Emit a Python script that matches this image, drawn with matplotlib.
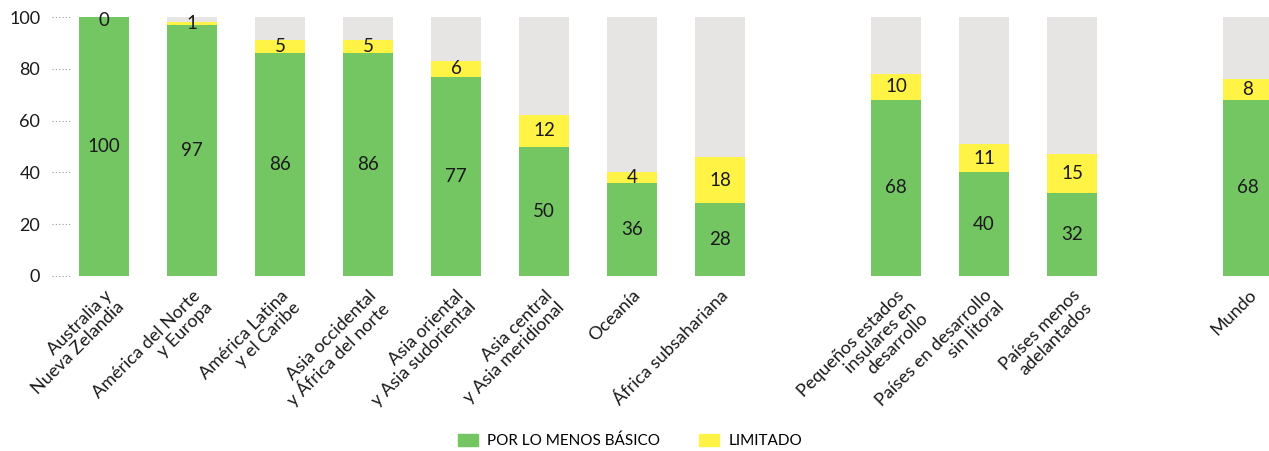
import numpy as np
import matplotlib.pyplot as plt
from matplotlib.patches import Patch

plt.rcParams['font.family'] = ['Lato', 'DejaVu Sans']

# Data
regions = ['Australia y\nNueva Zelandia', 'América del Norte\ny Europa',
           'América Latina\ny el Caribe', 'Asia occidental\ny África del norte',
           'Asia oriental\ny Asia sudoriental', 'Asia central\ny Asia meridional',
           'Oceanía', 'África subsahariana',
           'Pequeños estados\ninsulares en\ndesarrollo', 'Países en desarrollo\nsin litoral',
           'Países menos\nadelantados', 'Mundo']
basic = [100, 97, 86, 86, 77, 50, 36, 28, 68, 40, 32, 68]
limited = [0, 1, 5, 5, 6, 12, 4, 18, 10, 11, 15, 8]
positions = [0, 1, 2, 3, 4, 5, 6, 7, 9, 10, 11, 13]

green = '#74c662'
yellow = '#fff345'
grey = '#e7e5e4'
txt = '#1a1a1a'

fig = plt.figure(figsize=(12.69, 4.51), dpi=100)
ax = fig.add_axes([52 / 1269, 175 / 451, 1 - 52 / 1269, 259 / 451])

x = np.array(positions)
b = np.array(basic)
l = np.array(limited)
w = 0.57

ax.bar(x, 100, width=w, color=grey, zorder=1)
ax.bar(x, b, width=w, color=green, zorder=2)
ax.bar(x, l, bottom=b, width=w, color=yellow, zorder=2)

for xi, bi, li in zip(x, b, l):
    ax.text(xi, bi / 2, str(bi), ha='center', va='center', fontsize=13.5, color=txt, zorder=3)
    ax.text(xi, min(bi + li / 2, 98.6), str(li), ha='center', va='center', fontsize=13.5,
            color=txt, zorder=3)

ax.set_xlim(-0.59, (1269 - 104) / 88)
ax.set_ylim(0, 100)
ax.set_yticks([0, 20, 40, 60, 80, 100])
ax.hlines([0, 20, 40, 60, 80, 100], 0, 18 / 1217, transform=ax.get_yaxis_transform(),
          colors='#999999', linestyles=(0, (1, 2)), linewidth=0.8, clip_on=False)
ax.tick_params(axis='y', length=0, pad=8.5, labelsize=13, labelcolor=txt)

ax.set_xticks(x)
ax.set_xticklabels(regions, rotation=45, ha='right', rotation_mode='anchor',
                   fontsize=13, color=txt, linespacing=1.05)
ax.tick_params(axis='x', length=0, pad=8)

for s in ax.spines.values():
    s.set_visible(False)

handles = [Patch(color=green, label='POR LO MENOS BÁSICO'),
           Patch(color=yellow, label='LIMITADO')]
fig.legend(handles=handles, loc='center', bbox_to_anchor=(630 / 1269, 1 - 441 / 451),
           ncol=2, frameon=False, fontsize=11, handlelength=1.3, handleheight=0.8,
           columnspacing=2.6, handletextpad=0.6)

plt.savefig('out.png', dpi=100)
